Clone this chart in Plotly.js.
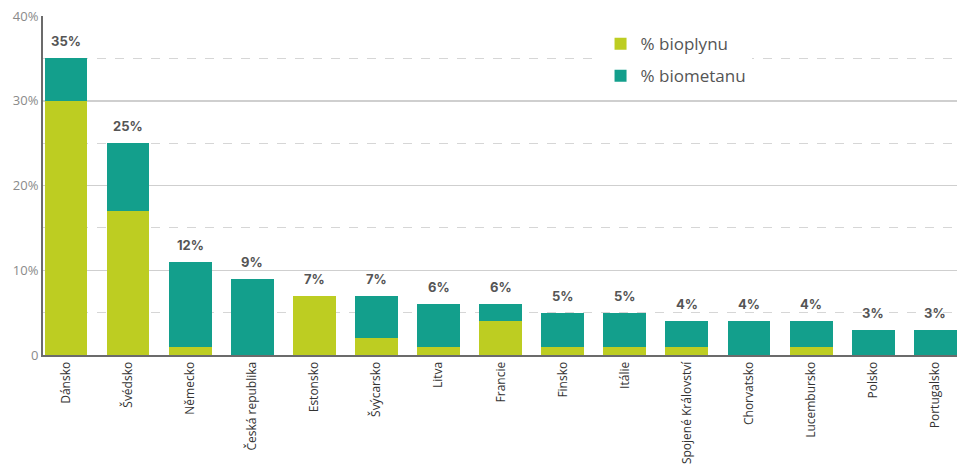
<!DOCTYPE html>
<html>
<head>
<meta charset="utf-8">
<script src="https://cdn.plot.ly/plotly-3.0.1.min.js"></script>
<style>
  html, body { margin: 0; padding: 0; background: #fff; }
  #chart { width: 966px; height: 468px; }
</style>
</head>
<body>
<div id="chart"></div>
<script>
// countries in the order of the chart
var countries = ["Dánsko", "Švédsko", "Německo", "Česká republika", "Estonsko",
    "Švýcarsko", "Litva", "Francie", "Finsko", "Itálie",
    "Spojené Království", "Chorvatsko", "Lucembursko", "Polsko", "Portugalsko"];

// share of biogas / biomethane (bar heights, %)
var bioplyn  = [30, 17, 1, 0, 7, 2, 1, 4, 1, 1, 1, 0, 1, 0, 0];
var biometan = [5, 8, 10, 9, 0, 5, 5, 2, 4, 4, 3, 4, 3, 3, 3];

// labels printed above the bars
var labels = ["35%", "25%", "12%", "9%", "7%", "7%", "6%", "6%", "5%", "5%",
    "4%", "4%", "4%", "3%", "3%"];

var yTickVals = [0, 10, 20, 30, 40];
var yTickText = ["0", "10%", "20%", "30%", "40%"];

var green = "#bdcd22";
var teal = "#139f8c";

var data = [
    {
        type: "bar",
        name: "% bioplynu",
        legendgroup: "a",
        x: countries,
        y: bioplyn,
        marker: { color: green },
        hoverinfo: "skip"
    },
    {
        type: "bar",
        name: "% biometanu",
        legendgroup: "b",
        x: countries,
        y: biometan,
        marker: { color: teal },
        hoverinfo: "skip"
    }
];

var annotations = countries.map(function (c, i) {
    return {
        x: c,
        y: bioplyn[i] + biometan[i],
        text: "<b>" + labels[i] + "</b>",
        showarrow: false,
        yanchor: "bottom",
        yshift: 7,
        font: { family: "Inter, 'DejaVu Sans', sans-serif", size: 13, color: "#555" }
    };
});

var layout = {
    width: 966,
    height: 468,
    margin: { l: 43, r: 9, t: 16, b: 113 },
    paper_bgcolor: "#fff",
    plot_bgcolor: "#fff",
    barmode: "stack",
    bargap: 0.31,
    showlegend: true,
    legend: {
        x: 0.61, y: 0.97, xanchor: "left", yanchor: "top",
        traceorder: "grouped",
        font: { family: "'Open Sans', sans-serif", size: 17, color: "#555" },
        itemwidth: 30,
        tracegroupgap: 7
    },
    xaxis: {
        type: "category",
        range: [-0.37, 14.35],
        tickangle: -90,
        ticks: "",
        showline: true,
        linecolor: "#6b6b6b",
        linewidth: 2,
        tickfont: { family: "'Open Sans', sans-serif", size: 12, color: "#333" },
        fixedrange: true
    },
    yaxis: {
        range: [0, 40],
        tickvals: yTickVals,
        ticktext: yTickText,
        ticks: "",
        showline: true,
        linecolor: "#6b6b6b",
        linewidth: 2,
        showgrid: true,
        gridcolor: "#cfcfcf",
        gridwidth: 1.5,
        zeroline: false,
        minor: { dtick: 5, showgrid: true, griddash: "dash", gridcolor: "#d6d6d6", gridwidth: 1 },
        tickfont: { family: "'Open Sans', sans-serif", size: 13, color: "#8a8a8a" },
        fixedrange: true
    },
    annotations: annotations
};

Plotly.newPlot("chart", data, layout, { displayModeBar: false, staticPlot: true });
</script>
</body>
</html>
